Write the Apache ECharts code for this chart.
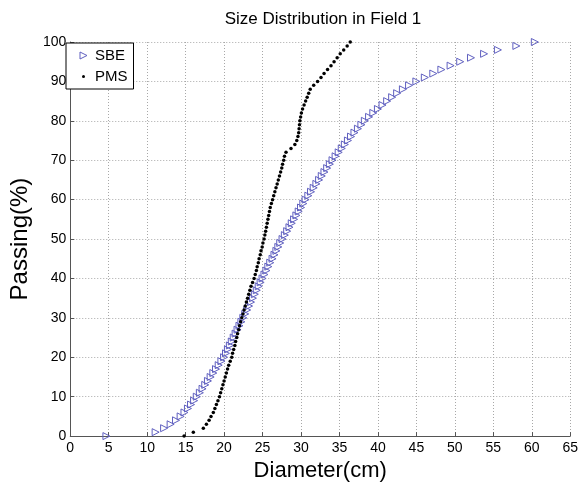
<!DOCTYPE html>
<html>
<head>
<meta charset="utf-8">
<script src="https://cdn.jsdelivr.net/npm/echarts@6/dist/echarts.min.js"></script>
<style>
  html, body { margin: 0; padding: 0; background: #fff; }
  #chart { width: 581px; height: 487px; }
</style>
</head>
<body>
<div id="chart"></div>
<script>
// Cumulative passing percentages (0..100 in 1% steps)
const passing = [
  0, 1, 2, 3, 4, 5, 6, 7, 8, 9, 10, 11, 12, 13, 14, 15, 16, 17, 18, 19, 20,
  21, 22, 23, 24, 25, 26, 27, 28, 29, 30, 31, 32, 33, 34, 35, 36, 37, 38, 39, 40,
  41, 42, 43, 44, 45, 46, 47, 48, 49, 50, 51, 52, 53, 54, 55, 56, 57, 58, 59, 60,
  61, 62, 63, 64, 65, 66, 67, 68, 69, 70, 71, 72, 73, 74, 75, 76, 77, 78, 79, 80,
  81, 82, 83, 84, 85, 86, 87, 88, 89, 90, 91, 92, 93, 94, 95, 96, 97, 98, 99, 100
];

// SBE diameters (cm) at each passing percentage
const sbeDiameter = [
  4.7, 11.1, 12.2, 13.05, 13.75, 14.35, 14.85, 15.3, 15.7, 16.1, 16.45,
  16.85, 17.2, 17.55, 17.9, 18.25, 18.6, 18.95, 19.3, 19.65, 20.0,
  20.25, 20.5, 20.75, 21.0, 21.25, 21.5, 21.75, 22.0, 22.25, 22.5,
  22.75, 23.0, 23.25, 23.5, 23.75, 24.0, 24.25, 24.5, 24.75, 25.0,
  25.25, 25.5, 25.75, 26.0, 26.3, 26.55, 26.8, 27.05, 27.3, 27.6,
  27.9, 28.2, 28.5, 28.8, 29.1, 29.4, 29.7, 30.0, 30.3, 30.6,
  30.95, 31.3, 31.65, 32.0, 32.35, 32.7, 33.05, 33.4, 33.75, 34.1,
  34.5, 34.9, 35.3, 35.7, 36.1, 36.5, 36.95, 37.4, 37.85, 38.3,
  38.85, 39.4, 40.0, 40.6, 41.2, 41.85, 42.5, 43.25, 44.05, 45.0,
  46.1, 47.2, 48.25, 49.45, 50.7, 52.1, 53.8, 55.6, 58.0, 60.4
];

// PMS diameters (cm) at each passing percentage
const pmsDiameter = [
  14.8, 16.0, 17.3, 17.7, 18.05, 18.3, 18.6, 18.8, 19.0, 19.2, 19.4,
  19.55, 19.7, 19.85, 20.0, 20.15, 20.3, 20.45, 20.6, 20.8, 21.0,
  21.1, 21.25, 21.4, 21.5, 21.65, 21.75, 21.9, 22.0, 22.15, 22.3,
  22.45, 22.6, 22.75, 22.9, 23.05, 23.2, 23.35, 23.5, 23.7, 23.9,
  24.05, 24.2, 24.3, 24.45, 24.55, 24.7, 24.8, 24.95, 25.05, 25.2,
  25.3, 25.4, 25.5, 25.6, 25.7, 25.8, 25.9, 26.0, 26.15, 26.3,
  26.45, 26.6, 26.75, 26.9, 27.05, 27.2, 27.35, 27.5, 27.6, 27.75,
  27.85, 28.05, 28.7, 29.2, 29.45, 29.6, 29.7, 29.75, 29.8, 29.85,
  29.95, 30.05, 30.2, 30.4, 30.6, 30.8, 31.0, 31.2, 31.65, 32.15,
  32.6, 33.0, 33.45, 33.9, 34.3, 34.7, 35.1, 35.55, 36.0, 36.4
];

const xTicks = { min: 0, max: 65, step: 5 };
const yTicks = { min: 0, max: 100, step: 10 };

const font = '"Liberation Sans", Arial, sans-serif';
const sbeColor = '#6060c0';
const gridLine = { show: true, lineStyle: { color: '#a8a8a8', type: [1, 2], width: 1 } };

const chart = echarts.init(document.getElementById('chart'), null, { renderer: 'canvas' });
chart.setOption({
  backgroundColor: '#ffffff',
  animation: false,
  title: {
    text: 'Size Distribution in Field 1',
    left: 318, top: 6, textAlign: 'center',
    textStyle: { fontFamily: font, fontSize: 17, fontWeight: 'normal', color: '#000' }
  },
  legend: {
    orient: 'vertical',
    left: 66, top: 43,
    padding: [5, 6, 5, 12],
    itemGap: 6,
    itemWidth: 7, itemHeight: 7,
    backgroundColor: '#ffffff',
    borderColor: '#000', borderWidth: 1, borderRadius: 0,
    textStyle: { fontFamily: font, fontSize: 15, color: '#000', padding: [0, 0, 0, 3] },
    data: [
      { name: 'SBE', icon: 'path://M0,0 L10,5 L0,10 Z',
        itemStyle: { color: 'rgba(255,255,255,0)', borderColor: sbeColor, borderWidth: 1 } },
      // small dot: a white ring hides the outer part of the circle
      { name: 'PMS', icon: 'circle',
        itemStyle: { color: '#000', borderColor: '#ffffff', borderWidth: 4 } }
    ]
  },
  grid: { left: 64, right: 8, top: 42, bottom: 42, containLabel: false },
  xAxis: {
    type: 'value', min: xTicks.min, max: xTicks.max, interval: xTicks.step,
    name: 'Diameter(cm)', nameLocation: 'middle', nameGap: 22,
    nameTextStyle: { fontFamily: font, fontSize: 22, color: '#000' },
    axisLine: { show: true, onZero: false, lineStyle: { color: '#555', width: 1 } },
    axisTick: { show: true, inside: true, length: 4, lineStyle: { color: '#555' } },
    axisLabel: { fontFamily: font, fontSize: 14, color: '#000', margin: 5 },
    splitLine: gridLine
  },
  yAxis: {
    type: 'value', min: yTicks.min, max: yTicks.max, interval: yTicks.step,
    name: 'Passing(%)', nameLocation: 'middle', nameGap: 27,
    nameTextStyle: { fontFamily: font, fontSize: 24, color: '#000' },
    axisLine: { show: true, onZero: false, lineStyle: { color: '#555', width: 1 } },
    axisTick: { show: true, inside: true, length: 4, lineStyle: { color: '#555' } },
    axisLabel: { fontFamily: font, fontSize: 14, color: '#000', margin: 4 },
    splitLine: gridLine
  },
  series: [
    {
      name: 'SBE', type: 'scatter',
      symbol: 'triangle', symbolSize: 7, symbolRotate: -90,
      itemStyle: { color: 'rgba(255,255,255,0)', borderColor: sbeColor, borderWidth: 1, opacity: 1 },
      data: sbeDiameter.map((d, i) => [d, passing[i]]),
      z: 3
    },
    {
      name: 'PMS', type: 'scatter',
      symbol: 'circle', symbolSize: 3.5,
      itemStyle: { color: '#000', opacity: 1 },
      data: pmsDiameter.map((d, i) => [d, passing[i]]),
      z: 4
    }
  ]
});
</script>
</body>
</html>
